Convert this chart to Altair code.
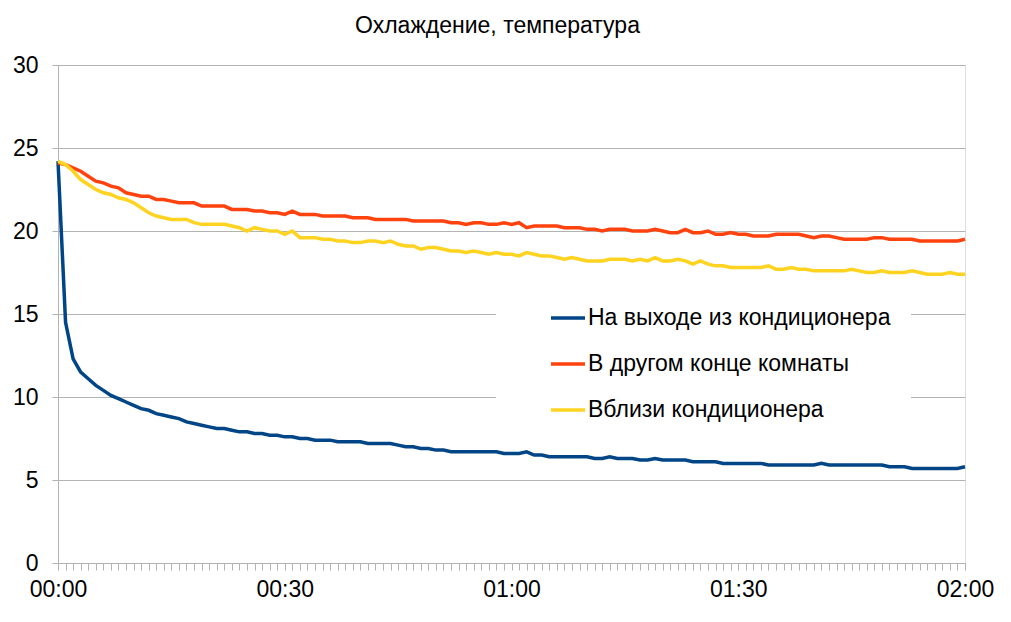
import altair as alt
import pandas as pd

series_names = ["На выходе из кондиционера", "В другом конце комнаты", "Вблизи кондиционера"]
series_colors = ["#004586", "#ff420e", "#ffd320"]
x_labels = ["00:00", "00:30", "01:00", "01:30", "02:00"]

# one reading per minute, 00:00 .. 02:00
outlet = [
    24.2, 14.5, 12.3, 11.5, 11.1, 10.7, 10.4, 10.1, 9.9, 9.7,
    9.5, 9.3, 9.2, 9.0, 8.9, 8.8, 8.7, 8.5, 8.4, 8.3,
    8.2, 8.1, 8.1, 8.0, 7.9, 7.9, 7.8, 7.8, 7.7, 7.7,
    7.6, 7.6, 7.5, 7.5, 7.4, 7.4, 7.4, 7.3, 7.3, 7.3,
    7.3, 7.2, 7.2, 7.2, 7.2, 7.1, 7.0, 7.0, 6.9, 6.9,
    6.8, 6.8, 6.7, 6.7, 6.7, 6.7, 6.7, 6.7, 6.7, 6.6,
    6.6, 6.6, 6.7, 6.5, 6.5, 6.4, 6.4, 6.4, 6.4, 6.4,
    6.4, 6.3, 6.3, 6.4, 6.3, 6.3, 6.3, 6.2, 6.2, 6.3,
    6.2, 6.2, 6.2, 6.2, 6.1, 6.1, 6.1, 6.1, 6.0, 6.0,
    6.0, 6.0, 6.0, 6.0, 5.9, 5.9, 5.9, 5.9, 5.9, 5.9,
    5.9, 6.0, 5.9, 5.9, 5.9, 5.9, 5.9, 5.9, 5.9, 5.9,
    5.8, 5.8, 5.8, 5.7, 5.7, 5.7, 5.7, 5.7, 5.7, 5.7,
    5.8,
]
far_end = [
    24.1, 24.0, 23.8, 23.6, 23.3, 23.0, 22.9, 22.7, 22.6, 22.3,
    22.2, 22.1, 22.1, 21.9, 21.9, 21.8, 21.7, 21.7, 21.7, 21.5,
    21.5, 21.5, 21.5, 21.3, 21.3, 21.3, 21.2, 21.2, 21.1, 21.1,
    21.0, 21.2, 21.0, 21.0, 21.0, 20.9, 20.9, 20.9, 20.9, 20.8,
    20.8, 20.8, 20.7, 20.7, 20.7, 20.7, 20.7, 20.6, 20.6, 20.6,
    20.6, 20.6, 20.5, 20.5, 20.4, 20.5, 20.5, 20.4, 20.4, 20.5,
    20.4, 20.5, 20.2, 20.3, 20.3, 20.3, 20.3, 20.2, 20.2, 20.2,
    20.1, 20.1, 20.0, 20.1, 20.1, 20.1, 20.0, 20.0, 20.0, 20.1,
    20.0, 19.9, 19.9, 20.1, 19.9, 19.9, 20.0, 19.8, 19.8, 19.9,
    19.8, 19.8, 19.7, 19.7, 19.7, 19.8, 19.8, 19.8, 19.8, 19.7,
    19.6, 19.7, 19.7, 19.6, 19.5, 19.5, 19.5, 19.5, 19.6, 19.6,
    19.5, 19.5, 19.5, 19.5, 19.4, 19.4, 19.4, 19.4, 19.4, 19.4,
    19.5,
]
near = [
    24.2, 24.0, 23.6, 23.1, 22.8, 22.5, 22.3, 22.2, 22.0, 21.9,
    21.7, 21.4, 21.1, 20.9, 20.8, 20.7, 20.7, 20.7, 20.5, 20.4,
    20.4, 20.4, 20.4, 20.3, 20.2, 20.0, 20.2, 20.1, 20.0, 20.0,
    19.8, 20.0, 19.6, 19.6, 19.6, 19.5, 19.5, 19.4, 19.4, 19.3,
    19.3, 19.4, 19.4, 19.3, 19.4, 19.2, 19.1, 19.1, 18.9, 19.0,
    19.0, 18.9, 18.8, 18.8, 18.7, 18.8, 18.7, 18.6, 18.7, 18.6,
    18.6, 18.5, 18.7, 18.6, 18.5, 18.5, 18.4, 18.3, 18.4, 18.3,
    18.2, 18.2, 18.2, 18.3, 18.3, 18.3, 18.2, 18.3, 18.2, 18.4,
    18.2, 18.2, 18.3, 18.2, 18.0, 18.2, 18.0, 17.9, 17.9, 17.8,
    17.8, 17.8, 17.8, 17.8, 17.9, 17.7, 17.7, 17.8, 17.7, 17.7,
    17.6, 17.6, 17.6, 17.6, 17.6, 17.7, 17.6, 17.5, 17.5, 17.6,
    17.5, 17.5, 17.5, 17.6, 17.5, 17.4, 17.4, 17.4, 17.5, 17.4,
    17.4,
]

rows = []
for name, vals in zip(series_names, [outlet, far_end, near]):
    for m, v in enumerate(vals):
        rows.append({"minute": m, "temp": v, "series": name})
df = pd.DataFrame(rows)

FONT = "Liberation Sans"
FS = 23
label_expr = ("datum.value % 30 == 0 ? " + str(x_labels) + "[datum.value / 30] : ''")

chart = alt.Chart(df).mark_line(strokeWidth=3.5).encode(
    x=alt.X("minute:Q",
            scale=alt.Scale(domain=[0, 120], nice=False, zero=False),
            axis=alt.Axis(title=None, values=list(range(0, 121)), labelExpr=label_expr,
                          grid=False, ticks=True, tickSize=7, tickWidth=1,
                          tickColor="#b3b3b3", domainColor="#b3b3b3",
                          labelFontSize=FS, labelFont=FONT,
                          labelColor="#000000", labelPadding=8, labelOverlap=False,
                          labelFlush=False)),
    y=alt.Y("temp:Q",
            scale=alt.Scale(domain=[0, 30], nice=False),
            axis=alt.Axis(title=None, values=[0, 5, 10, 15, 20, 25, 30],
                          grid=True, gridColor="#b3b3b3", ticks=True, tickSize=6,
                          tickWidth=1, tickColor="#b3b3b3",
                          domainColor="#b3b3b3", labelFontSize=FS, labelFont=FONT,
                          labelColor="#000000", labelPadding=14)),
    color=alt.Color("series:N",
                    scale=alt.Scale(domain=series_names, range=series_colors),
                    sort=series_names,
                    legend=alt.Legend(title=None, orient="none", legendX=438, legendY=214,
                                      fillColor="white", padding=20, symbolOffset=33,
                                      symbolType="stroke", symbolSize=1156,
                                      symbolStrokeWidth=3.5, labelFontSize=FS,
                                      labelFont=FONT, labelColor="#000000",
                                      labelOffset=1, rowPadding=15, labelLimit=600,
                                      labelExpr="datum.label + '\u00a0\u00a0\u00a0\u00a0\u00a0'")),
).properties(
    width=907,
    height=498,
    title=alt.TitleParams("Охлаждение, температура", font=FONT, fontSize=FS,
                          fontWeight="normal", color="#000000", anchor="middle", dx=-14,
                          offset=16),
    autosize=alt.AutoSizeParams(type="none"),
    padding={"left": 50, "top": 57, "right": 30, "bottom": 45},
).configure_view(stroke="#b3b3b3", strokeWidth=1).configure(background="white")

chart.save("out.html", embed_options={"renderer": "svg", "actions": False})
